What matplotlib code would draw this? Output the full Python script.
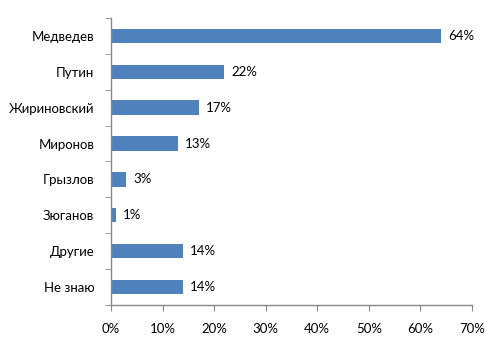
import matplotlib
matplotlib.use("Agg")
import matplotlib.pyplot as plt
import numpy as np
from matplotlib.ticker import FixedLocator

categories = ["Медведев", "Путин", "Жириновский", "Миронов", "Грызлов", "Зюганов", "Другие", "Не знаю"]
values = [64, 22, 17, 13, 3, 1, 14, 14]
labels = ["64%", "22%", "17%", "13%", "3%", "1%", "14%", "14%"]
xticks = [0, 10, 20, 30, 40, 50, 60, 70]

plt.rcParams['font.family'] = ['Lato', 'DejaVu Sans']

fig = plt.figure(figsize=(5, 3.6), dpi=100)
ax = fig.add_axes([0.222, 0.153, 0.722, 0.797])

n = len(categories)
y = np.arange(n)
ax.barh(y, values, height=0.4, color="#4F81BD")
ax.set_ylim(n - 0.5, -0.5)
ax.set_xlim(0, 70)

for yi, v, lab in zip(y, values, labels):
    ax.text(v + 1.3, yi, lab, va="center", ha="left", fontsize=9.5, color="#000000")

ax.set_yticks(y)
ax.set_yticklabels(categories, fontsize=9.5, color="#000000")
ax.tick_params(axis="y", which="major", length=0, pad=12)
ax.yaxis.set_minor_locator(FixedLocator(np.arange(-0.5, n + 0.5, 1)))
ax.tick_params(axis="y", which="minor", length=4, color="#888888", direction="out")

ax.set_xticks(xticks)
ax.set_xticklabels([f"{t}%" for t in xticks], fontsize=9.5, color="#000000")
ax.tick_params(axis="x", length=4, color="#888888", direction="out", pad=9)

for s in ["top", "right"]:
    ax.spines[s].set_visible(False)
for s in ["left", "bottom"]:
    ax.spines[s].set_color("#888888")
    ax.spines[s].set_linewidth(1)

fig.savefig("out.png", dpi=100)
